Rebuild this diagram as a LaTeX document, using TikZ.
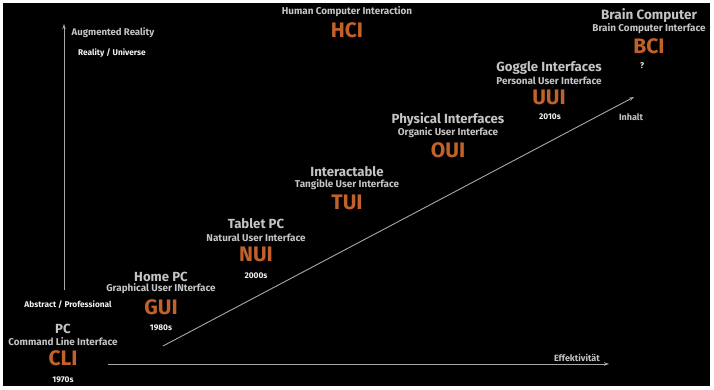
\documentclass[tikz,border=0pt]{standalone}
\usepackage{fontspec}
\setmainfont{Fira Sans}
\usetikzlibrary{arrows.meta}
\definecolor{hcibg}{HTML}{000000}
\definecolor{hcigray}{HTML}{C4C4C4}
\definecolor{hcilight}{HTML}{F2F2F2}
\definecolor{hciorange}{HTML}{C2622A}
\definecolor{hciline}{HTML}{A8A8A8}
\tikzset{
  era/.style={text=hcigray,font=\bfseries\fontsize{13.2}{13.2}\selectfont,inner sep=0pt},
  sub/.style={text=hcigray,font=\bfseries\fontsize{9.9}{9.9}\selectfont,inner sep=0pt},
  acro/.style={text=hciorange,font=\bfseries\fontsize{21}{21}\selectfont,inner sep=0pt},
  year/.style={text=hcilight,font=\bfseries\fontsize{8.3}{8.3}\selectfont,inner sep=0pt},
  axlabel/.style={text=hcigray,font=\bfseries\fontsize{9}{9}\selectfont,inner sep=0pt},
  axis/.style={draw=hciline,line width=0.9pt,-{Stealth[length=5pt,width=3.5pt]}}
}
\begin{document}
\begin{tikzpicture}[x=1pt,y=-1pt]
\useasboundingbox (0,0) rectangle (714,390);
\fill[white] (0,0) rectangle (714,390);
\fill[hcibg] (3,3) rectangle (710,386);

\node[sub] (hcit) at (347,12) {Human Computer Interaction};
\node[acro] (hci) at (347,30) {HCI};

\node[sub,font=\bfseries\fontsize{9.6}{9.6}\selectfont] (ar) at (113,33) {Augmented Reality};
\node[year] (real) at (112,53) {Reality / Universe};
\node[year] (abst) at (68,305) {Abstract / Professional};

\node[era] (pc) at (63,329) {PC};
\node[sub] (clit) at (63,342) {Command Line Interface};
\node[acro] (cli) at (63,358) {CLI};
\node[year] (y70) at (63,380) {1970s};

\node[era] (home) at (161,277) {Home PC};
\node[sub] (guit) at (161,289) {Graphical User INterface};
\node[acro] (gui) at (161,307) {GUI};
\node[year] (y80) at (161,328) {1980s};

\node[era] (tab) at (256,224) {Tablet PC};
\node[sub] (nuit) at (256,238) {Natural User Interface};
\node[acro] (nui) at (256,254) {NUI};
\node[year] (y00) at (256,276) {2000s};

\node[era] (inter) at (347,172) {Interactable};
\node[sub] (tuit) at (347,185) {Tangible User Interface};
\node[acro] (tui) at (347,202) {TUI};

\node[era] (phys) at (448,120) {Physical Interfaces};
\node[sub] (ouit) at (448,133) {Organic User Interface};
\node[acro] (oui) at (448,150) {OUI};

\node[era] (gog) at (549,68) {Goggle Interfaces};
\node[sub] (uuit) at (549,81) {Personal User Interface};
\node[acro] (uui) at (549,97) {UUI};
\node[year] (y10) at (550,117) {2010s};

\node[era,font=\bfseries\fontsize{13.5}{13.5}\selectfont] (brain) at (649,16) {Brain Computer};
\node[sub] (bcit) at (649,29) {Brain Computer Interface};
\node[acro] (bci) at (649,46) {BCI};
\node[year] (q) at (642,66) {?};

\node[axlabel] (inh) at (631,117) {Inhalt};
\node[axlabel] (eff) at (577,358) {Effektivität};

\coordinate (ybot) at (64,290);
\coordinate (ytop) at (64,24);
\coordinate (xbeg) at (108,364);
\coordinate (xend) at (609,364);
\coordinate (dbeg) at (163,346);
\coordinate (dend) at (634,97);
\draw[axis] (ybot) -- (ytop);
\draw[axis] (xbeg) -- (xend);
\draw[axis] (dbeg) -- (dend);
\end{tikzpicture}
\end{document}
